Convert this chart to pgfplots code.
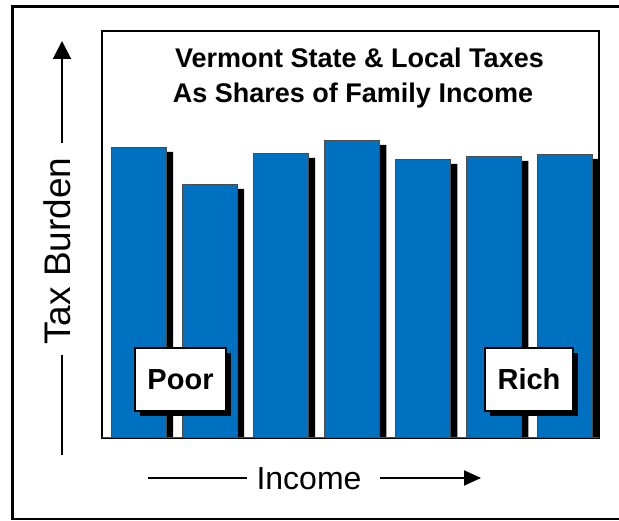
\documentclass[border=0pt]{standalone}
\usepackage{pgfplots}
\pgfplotsset{compat=1.18}
\usepackage{fontspec}
\setmainfont{Liberation Sans}
\usetikzlibrary{arrows.meta}
\definecolor{barblue}{RGB}{0,112,192}
\begin{document}
\begin{tikzpicture}[x=1pt,y=1pt]
\useasboundingbox (0,0) rectangle (619,521);
\draw[line width=3pt] (12,514) -- (640,514);
\draw[line width=2.5pt] (12,2) -- (640,2);
\draw[line width=3pt] (12,515.5) -- (12,0.75);
\begin{axis}[
  at={(102pt,83pt)}, anchor=south west,
  width=497pt, height=407pt, scale only axis,
  xmin=0.4865, xmax=7.478, ymin=0, ymax=407,
  axis line style={line width=1.2pt},
  xtick=\empty, ytick=\empty,
]
\addplot[ybar, bar width=55pt, bar shift=7pt, fill=black, draw=none]
  coordinates {(1,286) (2,249) (3,280) (4,293) (5,274) (6,277) (7,279)};
\addplot[ybar, bar width=55pt, bar shift=0pt, fill=barblue, draw=black!70, line width=1pt]
  coordinates {(1,290) (2,253) (3,284) (4,297) (5,278) (6,281) (7,283)};
\draw[line width=2pt, black!70] (rel axis cs:0,0) -- (rel axis cs:1,0);
\end{axis}
% title
\node[font=\bfseries\fontsize{27}{32}\selectfont, anchor=base] at (359.5,453) {Vermont State \& Local Taxes};
\node[font=\bfseries\fontsize{27}{32}\selectfont, anchor=base] at (353,418) {As Shares of Family Income};
% Poor / Rich boxes
\node[fill=black, minimum width=91pt, minimum height=63pt, inner sep=0pt] at (185.5,136.5) {};
\node[draw, line width=2pt, fill=white, minimum width=91pt, minimum height=63pt, inner sep=0pt,
      font=\bfseries\fontsize{29}{32}\selectfont] at (180.5,141.5) {Poor};
\node[fill=black, minimum width=88pt, minimum height=63pt, inner sep=0pt] at (534,136.5) {};
\node[draw, line width=2pt, fill=white, minimum width=88pt, minimum height=63pt, inner sep=0pt,
      font=\bfseries\fontsize{29}{32}\selectfont] at (529,141.5) {Rich};
% y label
\node[rotate=90, font=\fontsize{37}{40}\selectfont] at (57.5,270) {Tax Burden};
\draw[line width=2pt, -{Triangle[length=18pt,width=18pt]}] (62,378) -- (62,480);
\draw[line width=2pt] (62,166) -- (62,66);
% x label
\node[font=\fontsize{32}{36}\selectfont, anchor=base] at (309,31) {Income};
\draw[line width=2pt] (148,43) -- (247,43);
\draw[line width=2pt, -{Triangle[length=17pt,width=15pt]}] (380,43) -- (481,43);
\end{tikzpicture}
\end{document}
